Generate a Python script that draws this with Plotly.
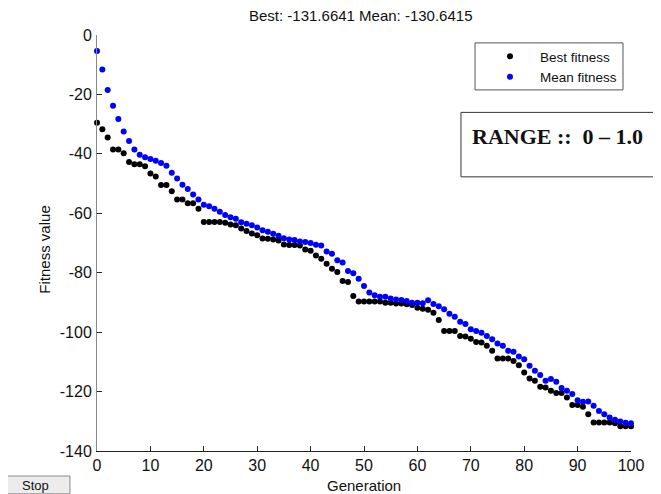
import plotly.graph_objects as go

generations = list(range(101))

best_fitness = [
    -29.5, -31.7, -34.5, -38.5, -38.5, -39.8, -42.7, -43.5, -43.5, -44.2,
    -46.6, -47.6, -50.5, -50.5, -52.6, -55.4, -55.4, -56.6, -56.6, -58.5,
    -62.9, -62.9, -62.9, -62.9, -63.2, -63.8, -64.0, -65.1, -66.0, -66.8,
    -67.4, -68.5, -68.6, -68.8, -69.2, -70.5, -70.7, -70.7, -70.8, -72.2,
    -72.6, -74.2, -75.3, -77.0, -78.7, -79.8, -82.8, -83.1, -87.8, -89.7,
    -89.7, -89.7, -89.7, -89.7, -90.1, -90.1, -90.4, -90.4, -90.6, -90.9,
    -91.8, -92.1, -92.5, -93.5, -95.9, -99.6, -99.6, -99.6, -101.3, -101.5,
    -102.2, -103.3, -103.5, -104.6, -106.3, -108.9, -108.9, -108.9, -109.7, -111.1,
    -113.6, -115.6, -116.4, -118.4, -118.6, -119.7, -120.5, -120.5, -122.0, -124.5,
    -124.5, -125.1, -127.6, -130.4, -130.4, -130.4, -130.4, -130.7, -131.6641, -131.6641,
    -131.6641,
]

mean_fitness = [
    -5.4, -11.6, -18.5, -23.8, -28.3, -32.5, -35.7, -38.5, -40.3, -41.1,
    -41.7, -42.3, -43.1, -44.0, -46.4, -48.3, -50.4, -51.8, -53.7, -55.4,
    -57.1, -57.6, -58.5, -59.5, -60.6, -61.3, -61.8, -63.0, -63.5, -64.0,
    -64.8, -65.7, -66.2, -66.9, -67.6, -68.4, -68.8, -69.0, -69.5, -69.7,
    -70.0, -70.6, -70.8, -72.9, -73.6, -75.8, -76.6, -79.4, -80.2, -82.0,
    -84.5, -86.7, -87.6, -88.1, -88.1, -88.7, -89.0, -89.2, -89.5, -90.1,
    -90.1, -90.3, -89.3, -90.5, -91.3, -92.3, -93.8, -94.8, -96.5, -97.3,
    -99.0, -99.6, -100.2, -101.3, -102.4, -103.8, -104.6, -106.3, -106.6, -108.2,
    -109.1, -111.3, -113.0, -114.4, -116.4, -115.8, -116.7, -118.8, -119.7, -120.8,
    -122.9, -123.4, -123.3, -124.8, -126.5, -127.6, -128.7, -129.5, -130.1, -130.5,
    -130.6415,
]

x_ticks = [0, 10, 20, 30, 40, 50, 60, 70, 80, 90, 100]
x_tick_labels = ["0", "10", "20", "30", "40", "50", "60", "70", "80", "90", "100"]
y_ticks = [0, -20, -40, -60, -80, -100, -120, -140]
y_tick_labels = ["0", "-20", "-40", "-60", "-80", "-100", "-120", "-140"]

title_text = "Best: -131.6641 Mean: -130.6415"
range_text = "RANGE ::  0 \u2013 1.0"

FONT = "Liberation Sans, Arial, sans-serif"

fig = go.Figure()
fig.add_trace(go.Scatter(
    x=generations, y=best_fitness, mode="markers", name="Best fitness",
    marker=dict(color="black", size=6), cliponaxis=False,
))
fig.add_trace(go.Scatter(
    x=generations, y=mean_fitness, mode="markers", name="Mean fitness",
    marker=dict(color="#0000ff", size=6), cliponaxis=False,
))

fig.update_layout(
    width=653, height=486,
    margin=dict(l=89, r=30, t=27, b=43),
    plot_bgcolor="white", paper_bgcolor="white",
    font=dict(family=FONT, color="#111", size=15),
    showlegend=True,
    legend=dict(
        x=0.7172, y=0.9856, xanchor="left", yanchor="top",
        bgcolor="rgba(0,0,0,0)", borderwidth=0,
        font=dict(family=FONT, size=13.5, color="#111"),
        itemwidth=50, tracegroupgap=0,
    ),
    xaxis=dict(
        range=[0, 100], tickvals=x_ticks, ticktext=x_tick_labels,
        ticks="inside", ticklen=5, tickcolor="#222",
        showline=True, linecolor="#222", linewidth=1,
        showgrid=False, zeroline=False, mirror=False,
        tickfont=dict(family=FONT, size=16, color="#111"),
    ),
    yaxis=dict(
        range=[-140, 0], tickvals=y_ticks, ticktext=y_tick_labels,
        ticks="inside", ticklen=5, tickcolor="#222",
        showline=True, linecolor="#888", linewidth=1,
        showgrid=False, zeroline=False, mirror=False,
        tickfont=dict(family=FONT, size=16, color="#111"),
        ticklabelstandoff=1,
    ),
    shapes=[
        # legend box
        dict(type="rect", xref="paper", yref="paper",
             x0=0.7079, x1=0.985, y0=0.868, y1=0.981,
             line=dict(color="#555", width=1), fillcolor="white", layer="below"),
        # RANGE box
        dict(type="rect", xref="paper", yref="paper",
             x0=0.6816, x1=1.047, y0=0.659, y1=0.814,
             line=dict(color="#333", width=1), fillcolor="rgba(0,0,0,0)"),
        # Stop button
        dict(type="rect", xref="paper", yref="paper",
             x0=-0.1798, x1=-0.0506, y0=-0.1030, y1=-0.0601,
             line=dict(color="#8a8a8a", width=1), fillcolor="#ececec"),
    ],
    annotations=[
        dict(text=title_text, xref="paper", yref="paper", x=0.494, y=1.048,
             xanchor="center", yanchor="middle", showarrow=False,
             font=dict(family=FONT, size=15, color="#111")),
        dict(text="Fitness value", xref="paper", yref="paper", x=-0.0974, y=0.484,
             xanchor="center", yanchor="middle", textangle=-90, showarrow=False,
             font=dict(family=FONT, size=15, color="#111")),
        dict(text="Generation", xref="paper", yref="paper", x=0.5, y=-0.084,
             xanchor="center", yanchor="middle", showarrow=False,
             font=dict(family=FONT, size=15, color="#111")),
        dict(text="<b>" + range_text + "</b>", xref="paper", yref="paper",
             x=0.863, y=0.757, xanchor="center", yanchor="middle", showarrow=False,
             font=dict(family="Liberation Serif, Times New Roman, serif", size=22,
                       color="#111")),
        dict(text="Stop", xref="paper", yref="paper", x=-0.115, y=-0.083,
             xanchor="center", yanchor="middle", showarrow=False,
             font=dict(family=FONT, size=13, color="#111")),
    ],
)

fig.write_html("out.html")
